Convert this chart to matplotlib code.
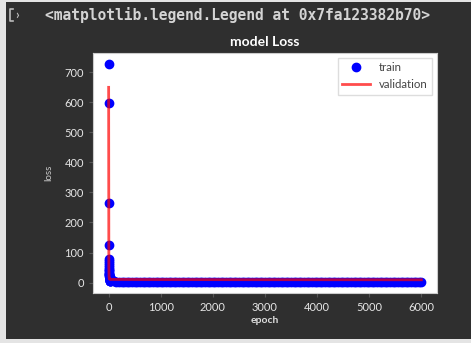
import matplotlib
matplotlib.use("Agg")
import matplotlib.pyplot as plt
from matplotlib.patches import Rectangle
from matplotlib.lines import Line2D

# epochs: dense at the start, then every 50 epochs
epochs = list(range(0, 31)) + list(range(50, 6001, 50))

train_head = [728, 598, 265, 125, 80, 72, 64, 57, 51, 46, 41, 37, 33, 30, 27,
              24, 21, 19, 17, 15, 13, 12, 11, 10, 9, 8, 7, 6, 5, 4.5, 4]
train_tail = [3.6, 3.5, 3.3, 3.2, 3.1, 3.0, 2.9, 2.9, 2.8, 2.8,
              2.7, 2.7, 2.6, 2.6, 2.6, 2.6, 2.5, 2.5, 2.5, 2.5,
              2.4, 2.4, 2.4, 2.4, 2.3, 2.3, 2.3, 2.3, 2.3, 2.3,
              2.2, 2.2, 2.2, 2.2, 2.2, 2.2, 2.1, 2.1, 2.1, 2.1,
              2.1, 2.1, 2.0, 2.0, 2.0, 2.0, 2.0, 2.0, 2.0, 2.0,
              1.9, 1.9, 1.9, 1.9, 1.9, 1.9, 1.9, 1.9, 1.9, 1.9,
              1.8, 1.8, 1.8, 1.8, 1.8, 1.8, 1.8, 1.8, 1.8, 1.8,
              1.8, 1.8, 1.7, 1.7, 1.7, 1.7, 1.7, 1.7, 1.7, 1.7,
              1.7, 1.7, 1.7, 1.7, 1.7, 1.6, 1.6, 1.6, 1.6, 1.6,
              1.6, 1.6, 1.6, 1.6, 1.6, 1.6, 1.6, 1.6, 1.5, 1.5,
              1.5, 1.5, 1.5, 1.5, 1.5, 1.5, 1.5, 1.5, 1.5, 1.5,
              1.5, 1.5, 1.5, 1.5, 1.5, 1.5, 1.5, 1.5, 1.5, 1.5]
val_head = [650, 420, 180, 90, 52, 36, 27, 22, 19, 17, 16, 15, 14, 14, 13,
            13, 13, 12, 12, 12, 12, 11, 11, 11, 11, 11, 11, 10.5, 10.5, 10.5, 10.5]
val_tail = [10.4, 10.4, 10.3, 10.3, 10.3, 10.2, 10.2, 10.2, 10.1, 10.1,
            10.1, 10.0, 10.0, 10.0, 10.0, 10.0, 9.9, 9.9, 9.9, 9.9,
            9.9, 9.9, 9.8, 9.8, 9.8, 9.8, 9.8, 9.8, 9.8, 9.8,
            9.7, 9.7, 9.7, 9.7, 9.7, 9.7, 9.7, 9.7, 9.7, 9.7,
            9.6, 9.6, 9.6, 9.6, 9.6, 9.6, 9.6, 9.6, 9.6, 9.6,
            9.6, 9.6, 9.5, 9.5, 9.5, 9.5, 9.5, 9.5, 9.5, 9.5,
            9.5, 9.5, 9.5, 9.5, 9.5, 9.5, 9.4, 9.4, 9.4, 9.4,
            9.4, 9.4, 9.4, 9.4, 9.4, 9.4, 9.4, 9.4, 9.4, 9.4,
            9.4, 9.4, 9.4, 9.3, 9.3, 9.3, 9.3, 9.3, 9.3, 9.3,
            9.3, 9.3, 9.3, 9.3, 9.3, 9.3, 9.3, 9.3, 9.3, 9.3,
            9.3, 9.3, 9.3, 9.2, 9.2, 9.2, 9.2, 9.2, 9.2, 9.2,
            9.2, 9.2, 9.2, 9.2, 9.2, 9.2, 9.2, 9.2, 9.2, 9.2]
train_loss = train_head + train_tail
val_loss = val_head + val_tail

plt.rcParams['font.family'] = ['Lato', 'DejaVu Sans']

fig = plt.figure(figsize=(4.71, 3.43), dpi=100, facecolor='#e4e4e4')
# dark notebook output panel
fig.add_artist(Rectangle((6 / 471, 4 / 343), 465 / 471, 337 / 343,
                         transform=fig.transFigure, facecolor='#2f2f2f',
                         edgecolor='none', zorder=0))

# output icon and the repr line printed above the plot
fig.add_artist(Line2D([13 / 471, 10 / 471, 10 / 471, 13 / 471],
                      [334 / 343, 334 / 343, 322 / 343, 322 / 343],
                      transform=fig.transFigure, color='#bbbbbb', lw=1.2))
fig.text(15 / 471, 328 / 343, '\u203a', color='#bbbbbb', fontsize=9,
         va='center', fontweight='bold')
fig.text(45 / 471, 328 / 343, '<matplotlib.legend.Legend at 0x7fa123382b70>',
         family='DejaVu Sans Mono', color='#d4d4d4', fontsize=10.5,
         fontweight='bold', va='center')

ax = fig.add_axes([93 / 471, 50 / 343, 344 / 471, 240 / 343])
ax.set_facecolor('white')
ax.plot(epochs, train_loss, 'o', color='blue', markersize=6, label='train')
ax.plot(epochs, val_loss, color='red', lw=2, alpha=0.7, label='validation')

ax.set_title('model Loss', color='white', fontsize=10, fontweight='bold', pad=5)
ax.set_xlabel('epoch', color='#dddddd', fontsize=7.5, fontweight='bold', labelpad=2)
ax.set_ylabel('loss', color='#cccccc', fontsize=7, labelpad=8)
ax.set_xticks([0, 1000, 2000, 3000, 4000, 5000, 6000])
ax.set_yticks([0, 100, 200, 300, 400, 500, 600, 700])
ax.tick_params(colors='#555555', labelcolor='#e6e6e6', labelsize=8, length=3)
for s in ax.spines.values():
    s.set_color('#cccccc')
ax.legend(loc='upper right', fontsize=8.3, labelcolor='#444444',
          edgecolor='#dddddd', framealpha=1, fancybox=False,
          handlelength=2.4, borderaxespad=0.4)

fig.savefig('out.png', dpi=100, facecolor=fig.get_facecolor())
